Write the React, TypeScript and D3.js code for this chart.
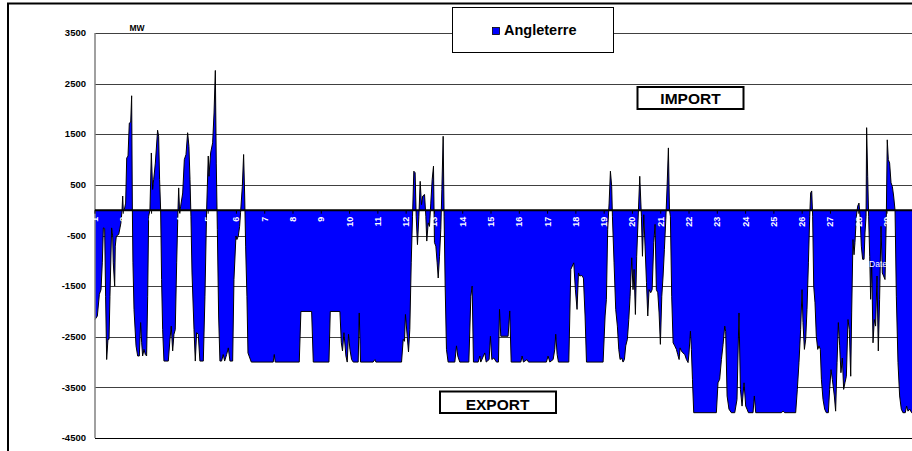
import React from "react";
import * as d3 from "d3";

// Hours since day 1, 00:00
const HOURS = [
  0, 2.0, 3.7, 5.1, 6.2, 7.1, 8.2, 9.0, 9.9, 11.0, 11.9, 12.7, 14.1, 15.0, 15.5, 16.7, 17.2, 18.1, 20.1, 21.2,
  22.0, 22.9, 23.5, 24.0, 24.9, 26.0, 26.9, 28.0, 29.1, 30.3, 31.1, 31.7, 32.2, 33.1, 34.8, 36.2, 37.6, 38.7, 39.6, 40.4,
  41.6, 42.7, 43.8, 44.7, 45.5, 46.6, 47.8, 48.9, 49.8, 51.2, 53.1, 54.0, 54.8, 55.7, 56.5, 57.4, 58.5, 62.2, 63.6, 64.7,
  65.9, 67.0, 68.1, 69.3, 70.4, 71.0, 71.8, 72.7, 74.4, 75.8, 77.2, 78.6, 79.7, 80.6, 81.4, 82.3, 84.0, 85.1, 86.2, 87.6,
  89.0, 91.9, 93.3, 94.7, 96.1, 96.7, 98.1, 99.8, 101.0, 102.1, 102.9, 103.8, 104.9, 106.0, 107.4, 108.8, 110.0, 111.7, 113.1, 114.5,
  116.8, 117.9, 119.6, 120.4, 121.6, 122.7, 123.5, 125.0, 126.1, 127.0, 127.8, 128.9, 129.8, 132.6, 151.2, 152.1, 152.9, 173.3, 174.7, 183.8,
  185.2, 198.5, 199.6, 207.8, 209.0, 210.0, 211.2, 212.9, 214.0, 215.1, 216.3, 217.7, 219.1, 223.3, 224.2, 225.3, 236.0, 237.5, 238.3, 260.1,
  261.5, 262.6, 263.4, 264.9, 266.0, 267.1, 268.3, 269.4, 270.5, 271.6, 272.5, 273.6, 274.8, 275.9, 277.0, 278.1, 279.6, 280.7, 281.5, 282.7,
  283.8, 284.9, 286.1, 287.2, 288.0, 289.2, 290.3, 291.2, 292.3, 293.4, 294.3, 295.4, 296.2, 297.1, 298.2, 299.6, 305.3, 306.7, 307.8, 309.5,
  317.2, 318.9, 320.0, 321.1, 325.1, 326.5, 327.3, 330.7, 331.9, 334.4, 335.5, 336.7, 338.4, 340.6, 342.3, 343.2, 344.3, 350.5, 351.9, 353.1,
  361.3, 362.4, 363.5, 366.6, 367.8, 383.0, 384.4, 385.9, 388.7, 390.1, 390.9, 392.1, 393.2, 402.0, 403.7, 406.2, 407.6, 409.0, 410.2, 411.3,
  413.0, 414.4, 415.8, 417.0, 431.1, 432.8, 433.9, 435.0, 436.2, 437.3, 438.4, 439.0, 440.4, 441.8, 443.2, 444.4, 445.5, 446.9, 448.0, 449.2,
  450.3, 451.7, 452.9, 454.0, 455.4, 456.5, 457.4, 458.5, 459.6, 461.1, 462.2, 463.6, 464.5, 465.6, 466.7, 467.9, 469.0, 470.1, 471.5, 472.7,
  474.1, 475.2, 476.3, 477.5, 478.6, 479.7, 480.9, 482.0, 483.1, 484.3, 485.4, 486.5, 487.4, 488.2, 489.3, 490.5, 491.9, 493.3, 494.4, 495.6,
  496.4, 497.5, 498.9, 500.4, 501.8, 503.2, 504.0, 505.2, 506.0, 506.9, 508.0, 527.2, 528.6, 530.0, 531.5, 532.9, 534.3, 535.1, 536.3, 537.9,
  539.9, 542.8, 544.7, 546.4, 547.6, 549.0, 550.7, 552.1, 553.2, 554.4, 558.3, 559.4, 560.6, 582.3, 583.8, 585.2, 594.5, 595.9, 597.3, 598.7,
  599.9, 600.7, 601.9, 603.0, 604.1, 605.3, 606.4, 607.2, 608.1, 608.9, 609.8, 610.9, 612.0, 613.2, 614.3, 615.4, 616.3, 617.7, 619.1, 620.5,
  622.2, 623.3, 624.5, 625.6, 627.3, 628.4, 629.6, 630.7, 631.8, 632.9, 634.1, 635.2, 636.3, 637.5, 638.9, 640.0, 641.2, 642.0, 643.1, 644.0,
  644.8, 646.0, 647.1, 648.2, 649.1, 650.2, 651.3, 652.5, 653.3, 654.2, 654.7, 655.6, 656.4, 657.3, 658.1, 659.0, 660.1, 661.2, 662.3, 663.5,
  664.6, 665.7, 666.9, 668.0, 669.1, 670.3, 671.4, 672.2, 673.1, 674.2, 675.4, 676.5, 677.6, 678.8, 679.9, 681.3, 682.7, 684.1, 685.5, 687.5,
  688.6, 689.8, 691.2, 692.9, 694.0,
];

// Exchange with England, MW (positive = import, negative = export)
const MW = [
  -2160, -2090, -1660, -1570, -1040, -350, -360, -1700, -2950, -2550, -2550, -1700, -350, -510, -1040, -1500, -710, -510, -480, -350,
  -250, -20, 280, -20, 10, 140, 1030, 1070, 1720, 1740, 2260, 0, -1040, -1960, -2680, -2880, -2880, -2220, -2620, -2880,
  -2750, -2850, -2880, -1700, -120, 0, 1130, 410, 610, 930, 1580, 1460, 610, 0, -1370, -2360, -2980, -2980, -2550, -2290,
  -2780, -2450, -2360, -1040, 0, 440, -50, 80, 340, 1000, 1100, 1530, 1260, 610, -120, -1240, -2360, -2980, -2420, -2450,
  -2980, -2980, -1700, 0, 1070, 670, 1130, 1330, 1920, 2760, 930, -380, -2090, -2980, -2980, -2850, -2980, -2850, -2720, -2980,
  -2980, -1370, -510, -580, -510, -320, -50, 470, 1100, 280, -710, -1700, -2820, -3000, -3000, -2850, -3000, -3000, -2000, -2000,
  -3000, -3000, -2000, -2000, -2620, -2780, -2420, -2880, -3000, -2450, -2750, -2950, -3000, -3000, -2030, -3000, -3000, -2950, -3000, -3000,
  -2550, -2590, -2060, -2490, -2800, -2360, -1040, -120, 770, 740, -120, -680, -120, 570, 110, 280, 310, -120, -610, -250,
  -320, 140, 610, 870, -640, -710, -1040, -1340, -910, -380, 410, 1460, -120, -1500, -2750, -3000, -3000, -2680, -2880, -3000,
  -3000, -1700, -1500, -3000, -3000, -2880, -3000, -2820, -3000, -2950, -2490, -2950, -2920, -3000, -3000, -1960, -2490, -2490, -1990, -3000,
  -3000, -2880, -3000, -2950, -3000, -3000, -2880, -3000, -2950, -2750, -2450, -2850, -3000, -3000, -1170, -1040, -1570, -1960, -1240, -1300,
  -1290, -1340, -2090, -3000, -3000, -2090, -1760, -380, 140, 770, 470, -120, -1040, -1960, -2290, -2750, -2950, -2920, -3000, -2950,
  -2680, -2550, -2160, -1700, -940, -1570, -1170, -2060, -910, 10, 670, -120, -910, -90, -710, -1430, -2090, -1570, -1630, -1570,
  -640, -280, -1570, -1630, -2030, -2650, -1700, -1300, -780, -180, 470, 1230, 10, -120, -1700, -2620, -2680, -2750, -2850, -2950,
  -2720, -2780, -2820, -2850, -2950, -3010, -2820, -2390, -2750, -3340, -4000, -4000, -3410, -3340, -2950, -2650, -2290, -2390, -3670, -3930,
  -4000, -4000, -3740, -2030, -3540, -3870, -3410, -3870, -3930, -4000, -4000, -3670, -4000, -4000, -3970, -4000, -4000, -3540, -3010, -2360,
  -1570, -2220, -2750, -2550, -1960, -1040, -120, 340, 380, -120, -1500, -1830, -2490, -2750, -2680, -2750, -3340, -3740, -3930, -4000,
  -4000, -3540, -3150, -3340, -3670, -3970, -3010, -2220, -2680, -3210, -2920, -3540, -3410, -3280, -2160, -2360, -3280, -2030, -580, -880,
  -640, -120, 80, 140, -120, -710, -970, -970, -450, -120, 1630, 670, -120, -910, -1760, -1040, -2620, -2160, -2290, -1300,
  -2780, -1760, -320, -1240, -1300, -1370, -120, 1390, 1000, 930, 540, 470, 280, 0, -1700, -3010, -3670, -3930, -4000, -4000,
  -3870, -3970, -3930, -4000, -4000,
];

const Y_TICKS = [3500, 2500, 1500, 500, -500, -1500, -2500, -3500, -4500];
const DAY_LABELS = [
  "1", "2", "3", "4", "5", "6", "7", "8", "9", "10", "11", "12", "13", "14", "15",
  "16", "17", "18", "19", "20", "21", "22", "23", "24", "25", "26", "27", "28", "29", "30",
];
const SERIES_NAME = "Angleterre";
const Y_UNIT = "MW";
const X_TITLE = "Date";
const IMPORT_LABEL = "IMPORT";
const EXPORT_LABEL = "EXPORT";

const FONT = "'Liberation Sans', Arial, sans-serif";

export default function App() {
  const W = 912;
  const H = 451;
  const x = d3.scaleLinear().domain([0, 720]).range([95, 943.6]);
  const y = d3.scaleLinear().domain([-4500, 3500]).range([438, 33]);
  const data: [number, number][] = HOURS.map((h, i) => [h, MW[i]]);
  const area = d3
    .area<[number, number]>()
    .x((d) => x(d[0]))
    .y0(y(0))
    .y1((d) => y(d[1]));
  const line = d3
    .line<[number, number]>()
    .x((d) => x(d[0]))
    .y((d) => y(d[1]));
  const y0 = y(0);

  return (
    <svg
      width={W}
      height={H}
      style={{ position: "fixed", left: 0, top: 0, background: "#fff" }}
      fontFamily={FONT}
    >
      <rect x={0} y={0} width={W} height={H} fill="#fff" />
      {/* outer chart border */}
      <rect x={8} y={3.5} width={1000} height={1000} fill="none" stroke="#000" strokeWidth={2} />

      {/* gridlines */}
      {Y_TICKS.filter((t) => t !== -4500).map((t) => (
        <line key={t} x1={95} x2={W} y1={Math.round(y(t)) + 0.5} y2={Math.round(y(t)) + 0.5} stroke="#404040" strokeWidth={1} />
      ))}

      {/* area */}
      <path d={area(data) || ""} fill="#0000FF" stroke="none" />
      <path d={line(data) || ""} fill="none" stroke="#000" strokeWidth={1} strokeLinejoin="miter" />

      {/* y axis */}
      <line x1={95} x2={95} y1={y(3500)} y2={y(-4500)} stroke="#808080" strokeWidth={1.5} />
      <line x1={95} x2={W} y1={Math.round(y(-4500)) + 0.5} y2={Math.round(y(-4500)) + 0.5} stroke="#000" strokeWidth={1.2} />
      {Y_TICKS.map((t) => (
        <text key={t} x={86} y={y(t) + 3.2} textAnchor="end" fontSize={9.5} fontWeight="bold" fill="#000">
          {t}
        </text>
      ))}

      {/* zero axis */}
      <line x1={95} x2={W} y1={y0} y2={y0} stroke="#000" strokeWidth={2} />
      {DAY_LABELS.map((d, i) => {
        const xx = x(i * 24);
        if (xx > W - 6) return null;
        return (
          <g key={d}>
            <line x1={xx} x2={xx} y1={y0} y2={y0 + 3.5} stroke="#000" strokeWidth={1} />
            <text
              transform={`translate(${xx},${y0 + 6.5}) rotate(-90)`}
              textAnchor="end"
              dominantBaseline="central"
              fontSize={9}
              fontWeight="bold"
              fill="#fff"
            >
              {d}
            </text>
          </g>
        );
      })}
      <text x={878} y={267} textAnchor="middle" fontSize={8.5} fill="#fff">
        {X_TITLE}
      </text>
      <text x={137} y={31} textAnchor="middle" fontSize={8.5} fontWeight="bold" fill="#000">
        {Y_UNIT}
      </text>

      {/* legend */}
      <rect x={452.5} y={7.5} width={161} height={45} fill="#fff" stroke="#000" strokeWidth={1} />
      <rect x={492.5} y={27.5} width={7} height={7} fill="#0000FF" stroke="#000" strokeWidth={0.8} />
      <text x={504} y={34.7} fontSize={14.5} fontWeight="bold" fill="#000">
        {SERIES_NAME}
      </text>

      {/* IMPORT / EXPORT boxes */}
      <rect x={637.5} y={87} width={106} height={22} fill="#fff" stroke="#000" strokeWidth={2} />
      <text x={690.5} y={104.3} textAnchor="middle" fontSize={15.5} fontWeight="bold" fill="#000">
        {IMPORT_LABEL}
      </text>
      <rect x={440} y={391.5} width={116} height={21.5} fill="#fff" stroke="#000" strokeWidth={2} />
      <text x={497.5} y={410} textAnchor="middle" fontSize={15.5} fontWeight="bold" fill="#000">
        {EXPORT_LABEL}
      </text>
    </svg>
  );
}
